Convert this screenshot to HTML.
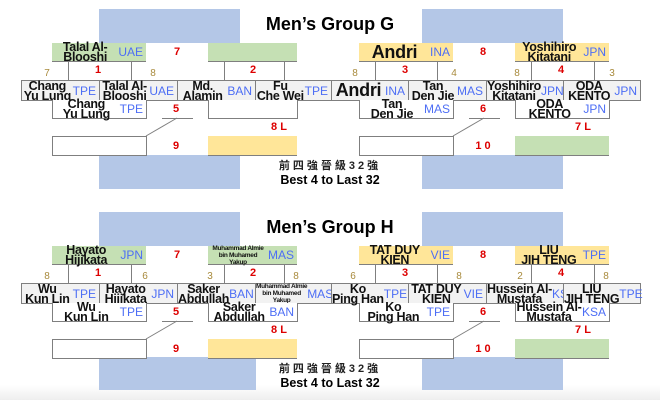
<!DOCTYPE html>
<html><head><meta charset="utf-8"><style>
*{margin:0;padding:0;box-sizing:border-box}
body{width:660px;height:400px;overflow:hidden;background:#fff;position:relative;font-family:"Liberation Sans","Noto Sans CJK TC",sans-serif}
.a{position:absolute}
.blue{position:absolute;background:#b4c7e7}
.bx{position:absolute;border:1px solid #7f7f7f;display:flex;align-items:center;overflow:visible}
.g{background:#c5e0b4;border:none;border-bottom:1.5px solid #7f7f7f}
.y{background:#ffe699;border:none;border-bottom:1.5px solid #7f7f7f}
.m{background:#f2f2f2}
.w{background:#fff}
.n{flex:1;text-align:center;font-weight:bold;font-size:12.5px;line-height:10px;color:#111;white-space:nowrap;letter-spacing:-0.3px}
.s{font-size:6.5px;line-height:7px}
.big{font-size:18px;line-height:17px}
.c{font-size:12px;color:#4d6ef5;padding-right:3px;white-space:nowrap}
.r{position:absolute;color:#d00;font-weight:bold;font-size:11px;transform:translateX(-50%)}
.sd{position:absolute;color:#a88a3c;font-size:10px;transform:translateX(-50%)}
.vl{position:absolute;width:1px;background:#7f7f7f}
.hl{position:absolute;height:1px;background:#7f7f7f}
.t{position:absolute;left:0;width:660px;text-align:center;font-weight:bold;font-size:18px}
.zh{position:absolute;left:0;width:660px;text-align:center;font-size:11px;letter-spacing:3px;color:#222;font-weight:bold}
.en{position:absolute;left:0;width:660px;text-align:center;font-weight:bold;font-size:12.5px}
</style></head><body>
<div class="a" style="left:0;top:385px;width:660px;height:15px;background:linear-gradient(#fff,#eee)"></div>

<!-- GROUP G -->
<div class="blue" style="left:99px;top:9px;width:141px;height:180px"></div>
<div class="blue" style="left:422px;top:9px;width:141px;height:180px"></div>
<div class="a" style="left:21px;top:43px;width:620px;height:112px;background:#fff"></div>
<div class="t" style="top:14px">Men’s Group G</div>

<div class="bx g" style="left:52px;top:43px;width:94px;height:19px"><div class="n">Talal Al-<br>Blooshi</div><div class="c">UAE</div></div>
<div class="bx g" style="left:208px;top:43px;width:89px;height:19px"></div>
<div class="bx y" style="left:359px;top:43px;width:94px;height:19px"><div class="n big">Andri</div><div class="c">INA</div></div>
<div class="bx y" style="left:515px;top:43px;width:94px;height:19px"><div class="n">Yoshihiro<br>Kitatani</div><div class="c">JPN</div></div>

<div class="vl" style="left:68px;top:61px;height:19px"></div><div class="vl" style="left:131px;top:61px;height:19px"></div>
<div class="vl" style="left:224px;top:61px;height:19px"></div><div class="vl" style="left:284px;top:61px;height:19px"></div>
<div class="vl" style="left:375px;top:61px;height:19px"></div><div class="vl" style="left:437px;top:61px;height:19px"></div>
<div class="vl" style="left:531px;top:61px;height:19px"></div><div class="vl" style="left:594px;top:61px;height:19px"></div>

<div class="bx m" style="left:21px;top:80px;width:79px;height:21px"><div class="n">Chang<br>Yu Lung</div><div class="c">TPE</div></div>
<div class="bx m" style="left:99px;top:80px;width:79px;height:21px"><div class="n">Talal Al-<br>Blooshi</div><div class="c">UAE</div></div>
<div class="bx m" style="left:177px;top:80px;width:79px;height:21px"><div class="n">Md.<br>Alamin</div><div class="c">BAN</div></div>
<div class="bx m" style="left:255px;top:80px;width:77px;height:21px"><div class="n">Fu<br>Che Wei</div><div class="c">TPE</div></div>
<div class="bx m" style="left:331px;top:80px;width:78px;height:21px"><div class="n big">Andri</div><div class="c">INA</div></div>
<div class="bx m" style="left:408px;top:80px;width:79px;height:21px"><div class="n">Tan<br>Den Jie</div><div class="c">MAS</div></div>
<div class="bx m" style="left:486px;top:80px;width:78px;height:21px"><div class="n">Yoshihiro<br>Kitatani</div><div class="c">JPN</div></div>
<div class="bx m" style="left:563px;top:80px;width:78px;height:21px"><div class="n">ODA<br>KENTO</div><div class="c">JPN</div></div>

<div class="bx w" style="left:52px;top:100px;width:95px;height:19px;border-top:none"><div class="n">Chang<br>Yu Lung</div><div class="c">TPE</div></div>
<div class="bx w" style="left:208px;top:100px;width:90px;height:19px;border-top:none"></div>
<div class="bx w" style="left:359px;top:100px;width:95px;height:19px;border-top:none"><div class="n">Tan<br>Den Jie</div><div class="c">MAS</div></div>
<div class="bx w" style="left:515px;top:100px;width:95px;height:19px;border-top:none"><div class="n">ODA<br>KENTO</div><div class="c">JPN</div></div>

<div class="hl" style="left:162px;top:118px;width:31px"></div>
<div class="hl" style="left:469px;top:118px;width:31px"></div>
<svg class="a" style="left:0;top:0" width="660" height="200"><line x1="177" y1="118" x2="146" y2="136" stroke="#7f7f7f"/><line x1="484" y1="118" x2="453" y2="136" stroke="#7f7f7f"/></svg>

<div class="bx w" style="left:52px;top:136px;width:95px;height:20px"></div>
<div class="bx y" style="left:208px;top:136px;width:89px;height:20px"></div>
<div class="bx w" style="left:359px;top:136px;width:95px;height:20px"></div>
<div class="bx g" style="left:515px;top:136px;width:94px;height:20px"></div>

<div class="r" style="left:177px;top:46px">7</div><div class="r" style="left:483px;top:46px">8</div>
<div class="r" style="left:98px;top:64px">1</div><div class="r" style="left:253px;top:64px">2</div>
<div class="r" style="left:405px;top:64px">3</div><div class="r" style="left:561px;top:64px">4</div>
<div class="r" style="left:176px;top:103px">5</div><div class="r" style="left:483px;top:103px">6</div>
<div class="r" style="left:279px;top:121px">8 L</div><div class="r" style="left:583px;top:121px">7 L</div>
<div class="r" style="left:176px;top:140px">9</div><div class="r" style="left:483px;top:140px">1 0</div>
<div class="sd" style="left:47px;top:68px">7</div><div class="sd" style="left:153px;top:68px">8</div>
<div class="sd" style="left:355px;top:68px">8</div><div class="sd" style="left:454px;top:68px">4</div>
<div class="sd" style="left:517px;top:68px">8</div><div class="sd" style="left:612px;top:68px">3</div>
<div class="zh" style="top:157px">前四強晉級<b>32</b>強</div>
<div class="en" style="top:173px">Best 4 to Last 32</div>

<!-- GROUP H -->
<div class="blue" style="left:99px;top:212px;width:141px;height:178px"></div>
<div class="blue" style="left:422px;top:212px;width:141px;height:178px"></div>
<div class="blue" style="left:99px;top:355px;width:157px;height:35px"></div>
<div class="a" style="left:21px;top:246px;width:620px;height:111px;background:#fff"></div>
<div class="t" style="top:217px">Men’s Group H</div>

<div class="bx g" style="left:52px;top:246px;width:94px;height:19px"><div class="n">Hayato<br>Hijikata</div><div class="c">JPN</div></div>
<div class="bx g" style="left:208px;top:246px;width:89px;height:19px"><div class="n s">Muhammad Almie<br>bin Muhamed<br>Yakup</div><div class="c">MAS</div></div>
<div class="bx y" style="left:359px;top:246px;width:94px;height:19px"><div class="n">TAT DUY<br>KIEN</div><div class="c">VIE</div></div>
<div class="bx y" style="left:515px;top:246px;width:94px;height:19px"><div class="n">LIU<br>JIH TENG</div><div class="c">TPE</div></div>

<div class="vl" style="left:68px;top:264px;height:19px"></div><div class="vl" style="left:131px;top:264px;height:19px"></div>
<div class="vl" style="left:224px;top:264px;height:19px"></div><div class="vl" style="left:284px;top:264px;height:19px"></div>
<div class="vl" style="left:375px;top:264px;height:19px"></div><div class="vl" style="left:437px;top:264px;height:19px"></div>
<div class="vl" style="left:531px;top:264px;height:19px"></div><div class="vl" style="left:594px;top:264px;height:19px"></div>

<div class="bx m" style="left:21px;top:283px;width:79px;height:21px"><div class="n">Wu<br>Kun Lin</div><div class="c">TPE</div></div>
<div class="bx m" style="left:99px;top:283px;width:79px;height:21px"><div class="n">Hayato<br>Hijikata</div><div class="c">JPN</div></div>
<div class="bx m" style="left:177px;top:283px;width:79px;height:21px"><div class="n">Saker<br>Abdullah</div><div class="c">BAN</div></div>
<div class="bx m" style="left:255px;top:283px;width:77px;height:21px"><div class="n s">Muhammad Almie<br>bin Muhamed<br>Yakup</div><div class="c">MAS</div></div>
<div class="bx m" style="left:331px;top:283px;width:78px;height:21px"><div class="n">Ko<br>Ping Han</div><div class="c">TPE</div></div>
<div class="bx m" style="left:408px;top:283px;width:79px;height:21px"><div class="n">TAT DUY<br>KIEN</div><div class="c">VIE</div></div>
<div class="bx m" style="left:486px;top:283px;width:78px;height:21px"><div class="n">Hussein Al-<br>Mustafa</div><div class="c">KSA</div></div>
<div class="bx m" style="left:563px;top:283px;width:78px;height:21px"><div class="n">LIU<br>JIH TENG</div><div class="c">TPE</div></div>

<div class="bx w" style="left:52px;top:303px;width:95px;height:19px;border-top:none"><div class="n">Wu<br>Kun Lin</div><div class="c">TPE</div></div>
<div class="bx w" style="left:208px;top:303px;width:90px;height:19px;border-top:none"><div class="n">Saker<br>Abdullah</div><div class="c">BAN</div></div>
<div class="bx w" style="left:359px;top:303px;width:95px;height:19px;border-top:none"><div class="n">Ko<br>Ping Han</div><div class="c">TPE</div></div>
<div class="bx w" style="left:515px;top:303px;width:95px;height:19px;border-top:none"><div class="n">Hussein Al-<br>Mustafa</div><div class="c">KSA</div></div>

<div class="hl" style="left:162px;top:321px;width:31px"></div>
<div class="hl" style="left:469px;top:321px;width:31px"></div>
<svg class="a" style="left:0;top:200px" width="660" height="200"><line x1="177" y1="121" x2="146" y2="139" stroke="#7f7f7f"/><line x1="484" y1="121" x2="453" y2="139" stroke="#7f7f7f"/></svg>

<div class="bx w" style="left:52px;top:339px;width:95px;height:20px"></div>
<div class="bx y" style="left:208px;top:339px;width:89px;height:20px"></div>
<div class="bx w" style="left:359px;top:339px;width:95px;height:20px"></div>
<div class="bx g" style="left:515px;top:339px;width:94px;height:20px"></div>

<div class="r" style="left:177px;top:249px">7</div><div class="r" style="left:483px;top:249px">8</div>
<div class="r" style="left:98px;top:267px">1</div><div class="r" style="left:253px;top:267px">2</div>
<div class="r" style="left:405px;top:267px">3</div><div class="r" style="left:561px;top:267px">4</div>
<div class="r" style="left:176px;top:306px">5</div><div class="r" style="left:483px;top:306px">6</div>
<div class="r" style="left:279px;top:324px">8 L</div><div class="r" style="left:583px;top:324px">7 L</div>
<div class="r" style="left:176px;top:343px">9</div><div class="r" style="left:483px;top:343px">1 0</div>
<div class="sd" style="left:47px;top:271px">8</div><div class="sd" style="left:145px;top:271px">6</div>
<div class="sd" style="left:210px;top:271px">3</div><div class="sd" style="left:296px;top:271px">8</div>
<div class="sd" style="left:353px;top:271px">6</div><div class="sd" style="left:459px;top:271px">8</div>
<div class="sd" style="left:520px;top:271px">2</div><div class="sd" style="left:606px;top:271px">8</div>
<div class="zh" style="top:360px">前四強晉級<b>32</b>強</div>
<div class="en" style="top:376px">Best 4 to Last 32</div>
</body></html>
